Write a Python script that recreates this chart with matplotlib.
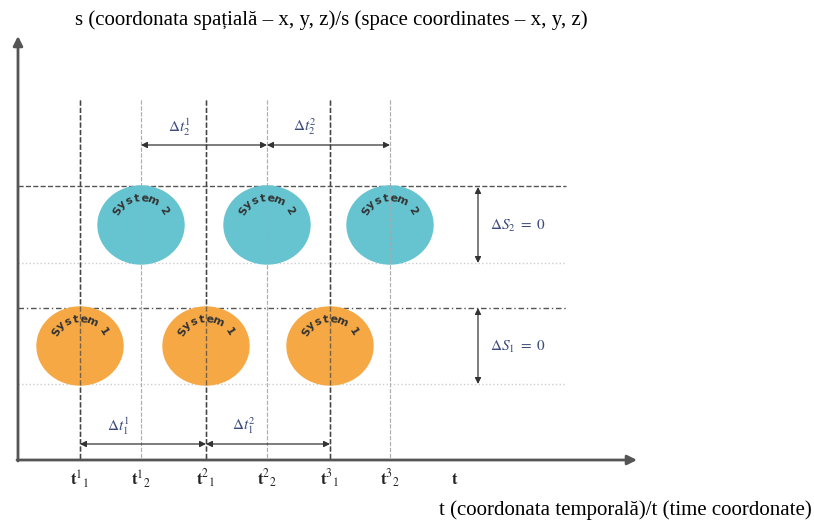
import numpy as np
import matplotlib.pyplot as plt
from matplotlib.patches import Ellipse

plt.rcParams['mathtext.fontset'] = 'stix'

# time ticks along the t axis (x) and their labels
t_pos = [80, 141, 206, 267, 330, 390, 455]
t_labels = [r'$\mathbf{t}^{1}{}_{1}$', r'$\mathbf{t}^{1}{}_{2}$', r'$\mathbf{t}^{2}{}_{1}$',
            r'$\mathbf{t}^{2}{}_{2}$', r'$\mathbf{t}^{3}{}_{1}$', r'$\mathbf{t}^{3}{}_{2}$',
            r'$\mathbf{t}$']
dark_lines = [True, False, True, False, True, False]

# space levels (s) : top/bottom of each system band
s_levels = [186, 263, 308, 384]
s_styles = [('--', '#555555'), (':', '#cccccc'), ((0, (4, 2, 1, 2)), '#555555'), (':', '#cccccc')]

# systems: centres in t and s
sys2_t = [141, 267, 390]
sys2_s = 225
sys1_t = [80, 206, 330]
sys1_s = 346
sys_w, sys_h = 86, 78

# interval arrows (start, end, level, label)
dt_top = [(141, 267, 145, r'$\Delta t_2^1$'), (267, 390, 145, r'$\Delta t_2^2$')]
dt_bot = [(80, 206, 444, r'$\Delta t_1^1$'), (206, 330, 444, r'$\Delta t_1^2$')]
ds = [(187, 263, r'$\Delta S_2\ =\ 0$'), (308, 384, r'$\Delta S_1\ =\ 0$')]
ds_x = 478

fig = plt.figure(figsize=(8.14, 5.21), dpi=100)
ax = fig.add_axes([0, 0, 1, 1])
ax.set_xlim(0, 814)
ax.set_ylim(521, 0)
ax.axis('off')

x0, y0 = 18, 460

# dashed verticals at each time
for x, dark in zip(t_pos[:-1], dark_lines):
    ax.plot([x, x], [100, y0], ls='--', lw=1.0 if dark else 0.8,
            color='#444444' if dark else '#bbbbbb', zorder=1)

# horizontal band lines
for y, (ls, c) in zip(s_levels, s_styles):
    ax.plot([x0, 566], [y, y], ls=ls, color=c, lw=1.0, zorder=1)


def curved(cx, cy, text, color='#333333'):
    r = 27
    angs = np.linspace(150, 32, len(text))
    for ch, a in zip(text, angs):
        ar = np.deg2rad(a)
        ax.text(cx + r * np.cos(ar), cy - r * np.sin(ar), ch, rotation=a - 90,
                ha='center', va='center', fontsize=8, fontweight='bold',
                color=color, zorder=4)


for x in sys2_t:
    ax.add_patch(Ellipse((x, sys2_s), sys_w, sys_h, color='#66c4d0', zorder=2))
    curved(x, sys2_s, 'System 2')
for x in sys1_t:
    ax.add_patch(Ellipse((x, sys1_s), sys_w, sys_h, color='#f5a844', zorder=2))
    curved(x, sys1_s, 'System 1')

# vertical lines show faintly over the circles
for x, dark in zip(t_pos[:-1], dark_lines):
    ax.plot([x, x], [100, y0], ls='--', lw=1.0 if dark else 0.8,
            color='#444444' if dark else '#aaaaaa', zorder=3, alpha=0.7)

arrow_kw = dict(arrowstyle='<|-|>', color='#333333', lw=0.9,
                mutation_scale=9, shrinkA=0, shrinkB=0)
for a, b, y, lab in dt_top + dt_bot:
    ax.annotate('', xy=(b, y), xytext=(a, y), arrowprops=arrow_kw, zorder=5)
    ax.text(a + 38, y - 18, lab, fontsize=11, color='#3a4a7a', ha='center', va='center')

for a, b, lab in ds:
    ax.annotate('', xy=(ds_x, b), xytext=(ds_x, a), arrowprops=arrow_kw, zorder=5)
    ax.text(ds_x + 40, (a + b) / 2 + 1, lab, fontsize=11, color='#3a4a7a',
            ha='center', va='center')

# axes with arrows
ax.annotate('', xy=(637, y0), xytext=(x0 - 1, y0),
            arrowprops=dict(arrowstyle='-|>', color='#555555', lw=2, mutation_scale=14,
                            shrinkA=0, shrinkB=0))
ax.annotate('', xy=(x0, 36), xytext=(x0, y0 + 1),
            arrowprops=dict(arrowstyle='-|>', color='#555555', lw=2, mutation_scale=14,
                            shrinkA=0, shrinkB=0))

for x, lab in zip(t_pos, t_labels):
    ax.text(x, 479, lab, fontsize=12, ha='center', va='center', color='#222222')

ax.text(75, 20, 's (coordonata spațială – x, y, z)/s (space coordinates – x, y, z)',
        family='Liberation Serif', fontsize=15, va='center', ha='left')
ax.text(812, 510, 't (coordonata temporală)/t (time coordonate)',
        family='Liberation Serif', fontsize=15, va='center', ha='right')

fig.savefig('out.png', dpi=100)
